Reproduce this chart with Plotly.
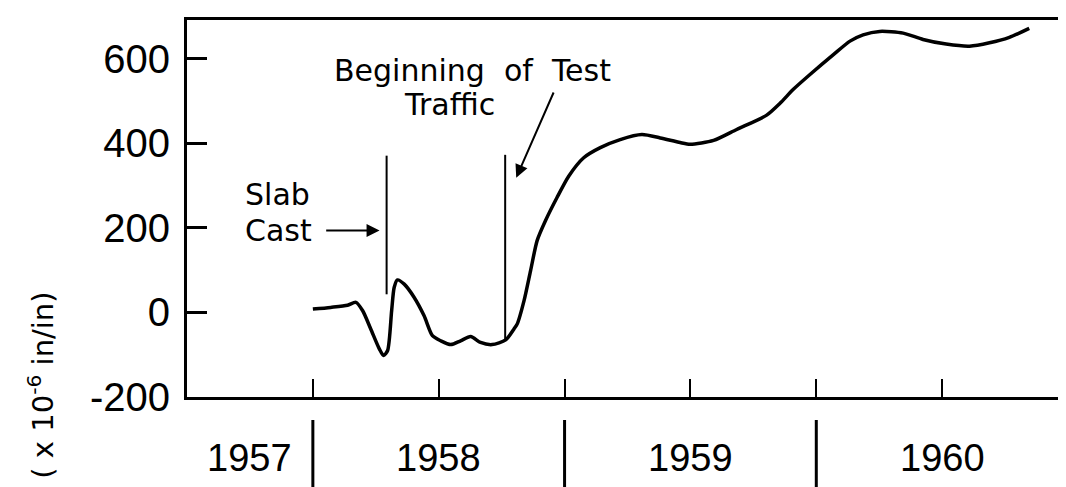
import plotly.graph_objects as go

# Strain curve (year, strain x10^-6 in/in)
years = [1958.00, 1958.071, 1958.138, 1958.171, 1958.198, 1958.230, 1958.264, 1958.281,
         1958.297, 1958.313, 1958.323, 1958.336, 1958.363, 1958.402, 1958.442, 1958.475,
         1958.508, 1958.548, 1958.587, 1958.627, 1958.666, 1958.712, 1958.766, 1958.799,
         1958.812, 1958.839, 1958.865, 1958.891, 1958.924, 1958.970,
         1959.017, 1959.076, 1959.142, 1959.221, 1959.307, 1959.380, 1959.459, 1959.499,
         1959.592, 1959.684, 1959.803, 1959.856, 1959.909, 1959.975, 1960.068, 1960.134,
         1960.186, 1960.252, 1960.345, 1960.424, 1960.516, 1960.609, 1960.688, 1960.767,
         1960.846]
strain = [8, 12, 17, 24, 4, -39, -86, -102,
          -90, 4, 59, 77, 67, 36, -8, -55,
          -67, -76, -67, -57, -71, -76, -65, -39,
          -27, 28, 99, 170, 217, 272,
          323, 366, 390, 409, 421, 413, 402, 398,
          407, 433, 467, 495, 528, 563, 610, 642,
          657, 665, 661, 646, 635, 630, 638, 651,
          672]

y_ticks = [-200, 0, 200, 400, 600]
y_tick_text = ["-200", "0", "200", "400", "600"]
x_ticks = [1958, 1958.5, 1959, 1959.5, 1960, 1960.5]
year_labels = ["1957", "1958", "1959", "1960"]
year_label_pos = [1957.75, 1958.5, 1959.5, 1960.5]
year_separators = [1958, 1959, 1960, 1961]

slab_cast_time = 1958.293
slab_line_range = [43, 371]
traffic_time = 1958.764
traffic_line_range = [-64, 373]

LAB = "Liberation Sans, Arial, sans-serif"
ANN = "DejaVu Sans, sans-serif"

fig = go.Figure()
fig.add_trace(go.Scatter(x=years, y=strain, mode="lines",
                         line=dict(color="black", width=3.5, shape="spline", smoothing=0.7),
                         hoverinfo="skip", showlegend=False))

# event markers
fig.add_trace(go.Scatter(x=[slab_cast_time, slab_cast_time], y=slab_line_range, mode="lines",
                         line=dict(color="black", width=2), showlegend=False, hoverinfo="skip"))
fig.add_trace(go.Scatter(x=[traffic_time, traffic_time], y=traffic_line_range, mode="lines",
                         line=dict(color="black", width=2), showlegend=False, hoverinfo="skip"))

annotations = []
# Slab Cast text and arrow
annotations.append(dict(x=1957.722, y=279, xref="x", yref="y", text="Slab", showarrow=False,
                        xanchor="left", yanchor="middle", font=dict(family=ANN, size=30, color="black")))
annotations.append(dict(x=1957.722, y=194, xref="x", yref="y", text="Cast", showarrow=False,
                        xanchor="left", yanchor="middle", font=dict(family=ANN, size=30, color="black")))
annotations.append(dict(x=1958.265, y=194, xref="x", yref="y", ax=1958.047, ay=194,
                        axref="x", ayref="y", text="", showarrow=True, arrowhead=2,
                        arrowsize=1.3, arrowwidth=2, arrowcolor="black"))
# Beginning of Test Traffic
annotations.append(dict(x=1958.634, y=572, xref="x", yref="y",
                        text="Beginning&nbsp;&nbsp;of&nbsp;&nbsp;Test", showarrow=False,
                        xanchor="center", yanchor="middle", font=dict(family=ANN, size=30, color="black")))
annotations.append(dict(x=1958.542, y=491, xref="x", yref="y", text="Traffic", showarrow=False,
                        xanchor="center", yanchor="middle", font=dict(family=ANN, size=30, color="black")))
annotations.append(dict(x=1958.808, y=319, xref="x", yref="y", ax=1958.959, ay=524,
                        axref="x", ayref="y", text="", showarrow=True, arrowhead=2,
                        arrowsize=1.3, arrowwidth=2, arrowcolor="black"))
# year labels
for lab, pos in zip(year_labels, year_label_pos):
    annotations.append(dict(x=pos, y=-0.162, xref="x", yref="paper", text=lab, showarrow=False,
                            xanchor="center", yanchor="middle",
                            font=dict(family=LAB, size=38, color="black")))
# y-axis title
annotations.append(dict(x=0, y=0.03, xref="paper", yref="paper", xshift=-146,
                        text="( x 10<sup>-6</sup> in/in)", textangle=-90, showarrow=False,
                        xanchor="center", yanchor="middle",
                        font=dict(family=ANN, size=29, color="black")))

shapes = []
for s in year_separators:
    shapes.append(dict(type="line", xref="x", yref="paper", x0=s, x1=s, y0=-0.061, y1=-0.262,
                       line=dict(color="black", width=3)))

fig.update_layout(
    width=1066, height=487,
    margin=dict(l=179, r=3, t=12, b=98),
    paper_bgcolor="white", plot_bgcolor="white",
    annotations=annotations, shapes=shapes,
    showlegend=False,
)
fig.update_xaxes(range=[1957.5, 1961.0], tickvals=x_ticks, ticks="inside", ticklen=18,
                 tickwidth=2, tickcolor="black", showticklabels=False, showgrid=False,
                 zeroline=False, showline=True, linecolor="black", linewidth=3, mirror=True)
fig.update_yaxes(range=[-200, 692], tickvals=y_ticks, ticktext=y_tick_text, ticks="inside",
                 ticklen=20, tickwidth=3, tickcolor="black", showgrid=False, zeroline=False,
                 showline=True, linecolor="black", linewidth=3, mirror=True,
                 tickfont=dict(family=LAB, size=40, color="black"), ticklabelstandoff=6)

fig.write_html("out.html")
